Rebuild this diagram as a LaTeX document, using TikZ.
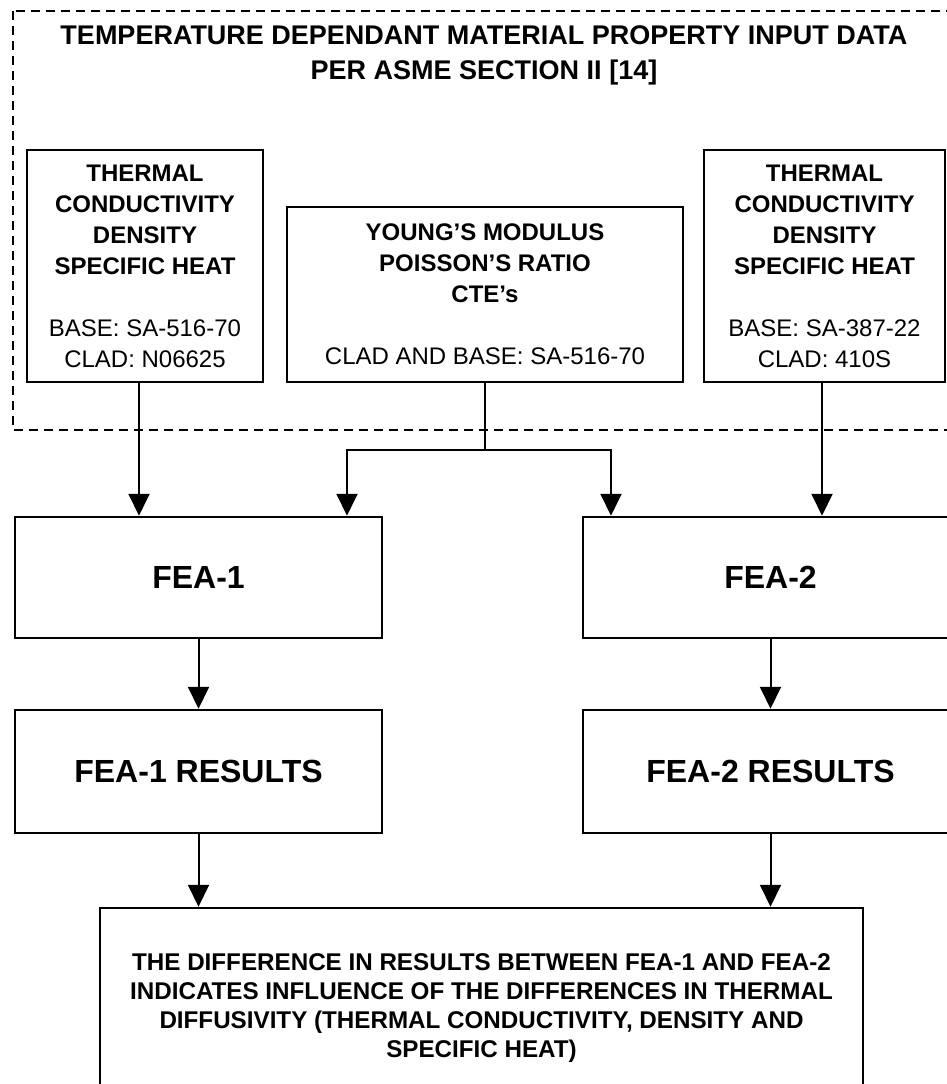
\documentclass[tikz,border=0pt]{standalone}
\usepackage{fontspec}
\setmainfont{Liberation Sans}
\usetikzlibrary{arrows.meta,calc}
\begin{document}
\begin{tikzpicture}[x=1pt,y=-1pt,
  box/.style={draw, line width=2.5pt, inner sep=0pt, align=center, fill=white},
  topbox/.style={box, font=\fontsize{24}{31}\selectfont\bfseries},
  feabox/.style={box, font=\fontsize{32}{36}\selectfont\bfseries},
  endbox/.style={box, font=\fontsize{24.2}{29.3}\selectfont\bfseries},
  arr/.style={line width=2pt, -{Triangle[length=22pt,width=21pt]}},
  dashbox/.style={line width=1.7pt, dash pattern=on 9pt off 6pt}]
\useasboundingbox (0,0) rectangle (947,1084);
\clip (0,0) rectangle (947,1084);
% dashed group frame
\draw[dashbox] (13,11) rectangle (965,430);
\node[align=center, font=\fontsize{27}{35}\selectfont\bfseries] (title) at (484,55)
  {TEMPERATURE DEPENDANT MATERIAL PROPERTY INPUT DATA\\PER ASME SECTION II [14]};
% top boxes
\node[topbox, minimum width=236pt, minimum height=232pt] (tb1) at (145,266)
  {THERMAL\\CONDUCTIVITY\\DENSITY\\SPECIFIC HEAT\\[31pt]{\mdseries BASE: SA-516-70}\\{\mdseries CLAD: N06625}};
\node[topbox, minimum width=396pt, minimum height=175pt] (tb2) at (485,294.5)
  {YOUNG'S MODULUS\\POISSON'S RATIO\\CTE's\\[31pt]{\mdseries CLAD AND BASE: SA-516-70}};
\node[topbox, minimum width=241pt, minimum height=232pt] (tb3) at (824.5,266)
  {THERMAL\\CONDUCTIVITY\\DENSITY\\SPECIFIC HEAT\\[31pt]{\mdseries BASE: SA-387-22}\\{\mdseries CLAD: 410S}};
% FEA boxes
\node[feabox, minimum width=367pt, minimum height=121pt] (fea1) at (198.5,577.5) {FEA-1};
\node[feabox, minimum width=375pt, minimum height=121pt] (fea2) at (770.5,577.5) {FEA-2};
\node[feabox, minimum width=367pt, minimum height=123pt] (res1) at (198.5,771.5) {FEA-1 RESULTS};
\node[feabox, minimum width=375pt, minimum height=123pt] (res2) at (770.5,771.5) {FEA-2 RESULTS};
\node[endbox, minimum width=763pt, minimum height=200pt] (fin) at (481.5,1008)
  {THE DIFFERENCE IN RESULTS BETWEEN FEA-1 AND FEA-2\\INDICATES INFLUENCE OF THE DIFFERENCES IN THERMAL\\DIFFUSIVITY (THERMAL CONDUCTIVITY, DENSITY AND\\SPECIFIC HEAT)};
% connectors
\coordinate (s1) at ([xshift=-6pt]tb1.south);
\coordinate (s3) at ([xshift=-2.5pt]tb3.south);
\coordinate (j) at ($(tb2.south)+(0,67)$);
\coordinate (jl) at (347,0);
\coordinate (jr) at (611,0);
\draw[arr] (s1) -- (s1 |- fea1.north);
\draw[arr] (s3) -- (s3 |- fea2.north);
\draw[arr] (tb2.south) -- (j) -- (jl |- j) -- (jl |- fea1.north);
\draw[arr] (j) -- (jr |- j) -- (jr |- fea2.north);
\draw[arr] (fea1.south) -- (res1.north);
\draw[arr] (fea2.south) -- (res2.north);
\draw[arr] (res1.south) -- (res1.south |- fin.north);
\draw[arr] (res2.south) -- (res2.south |- fin.north);
\end{tikzpicture}
\end{document}
